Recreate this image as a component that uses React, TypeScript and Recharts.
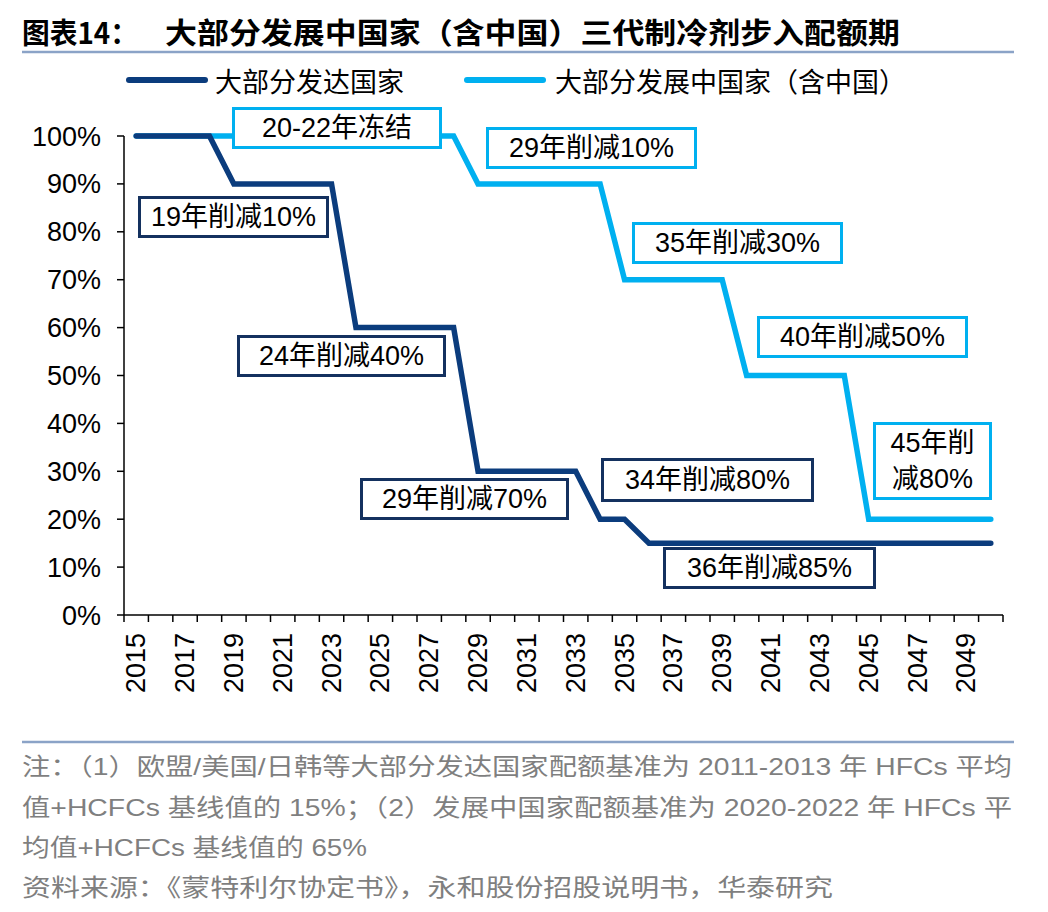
import { Line, LineChart, XAxis, YAxis } from "recharts";

// categories and series (% of baseline quota)
const years = [
  2015, 2016, 2017, 2018, 2019, 2020, 2021, 2022, 2023, 2024, 2025, 2026,
  2027, 2028, 2029, 2030, 2031, 2032, 2033, 2034, 2035, 2036, 2037, 2038,
  2039, 2040, 2041, 2042, 2043, 2044, 2045, 2046, 2047, 2048, 2049, 2050,
];
const developed = [
  100, 100, 100, 100, 90, 90, 90, 90, 90, 60, 60, 60, 60, 60, 30, 30, 30, 30,
  30, 20, 20, 15, 15, 15, 15, 15, 15, 15, 15, 15, 15, 15, 15, 15, 15, 15,
];
const developing = [
  100, 100, 100, 100, 100, 100, 100, 100, 100, 100, 100, 100, 100, 100, 90, 90,
  90, 90, 90, 90, 70, 70, 70, 70, 70, 50, 50, 50, 50, 50, 20, 20, 20, 20, 20, 20,
];
const yTicks = [0, 10, 20, 30, 40, 50, 60, 70, 80, 90, 100];
const labelYears = years.filter((y) => (y - 2015) % 2 === 0 && y < 2050);

const seriesNames = { developed: "大部分发达国家", developing: "大部分发展中国家（含中国）" };
const title = ["图表14：", "大部分发展中国家（含中国）三代制冷剂步入配额期"];
const notes = [
  "注：（1）欧盟/美国/日韩等大部分发达国家配额基准为 2011-2013 年 HFCs 平均",
  "值+HCFCs 基线值的 15%；（2）发展中国家配额基准为 2020-2022 年 HFCs 平",
  "均值+HCFCs 基线值的 65%",
  "资料来源：《蒙特利尔协定书》，永和股份招股说明书，华泰研究",
];

const data = years.map((year, i) => ({
  year,
  developed: developed[i],
  developing: developing[i],
}));
const bounds = [...years.map((y) => y - 0.5), years[years.length - 1] + 0.5];

const DARK = "#0b3c7d";
const DARK_BOX = "#14315f";
const LIGHT = "#00b0f0";
const FONT = '"Liberation Sans", "Noto Sans CJK SC", sans-serif';
const CJK = '"Noto Sans CJK SC", sans-serif';

// annotation boxes (page pixels)
const boxes = [
  { text: "20-22年冻结", c: LIGHT, x: 232, y: 107, w: 210, h: 42 },
  { text: "19年削减10%", c: DARK_BOX, x: 138, y: 196, w: 191, h: 42 },
  { text: "29年削减10%", c: LIGHT, x: 486, y: 127, w: 211, h: 42 },
  { text: "35年削减30%", c: LIGHT, x: 632, y: 222, w: 211, h: 42 },
  { text: "24年削减40%", c: DARK_BOX, x: 237, y: 335, w: 209, h: 42 },
  { text: "40年削减50%", c: LIGHT, x: 757, y: 316, w: 211, h: 42 },
  { text: "45年削\n减80%", c: LIGHT, x: 873, y: 422, w: 119, h: 78 },
  { text: "34年削减80%", c: DARK_BOX, x: 601, y: 458, w: 213, h: 44 },
  { text: "29年削减70%", c: DARK_BOX, x: 360, y: 478, w: 209, h: 42 },
  { text: "36年削减85%", c: DARK_BOX, x: 663, y: 547, w: 213, h: 42 },
];

const HALF_BAND = (1003 - 124) / years.length / 2;

function YearTick(props: any) {
  const { x, y, payload } = props;
  const year = payload.value + 0.5;
  if (!labelYears.includes(year)) return null;
  const cx = x + HALF_BAND;
  const ty = y + 9;
  return (
    <text
      x={cx}
      y={ty}
      transform={`rotate(-90, ${cx}, ${ty})`}
      textAnchor="end"
      dominantBaseline="central"
      fontSize={27}
      fontFamily={FONT}
      fill="#000"
    >
      {year}
    </text>
  );
}

export default function App() {
  return (
    <div
      style={{
        position: "absolute",
        left: 0,
        top: 0,
        width: 1048,
        height: 912,
        background: "#fff",
        fontFamily: FONT,
      }}
    >
      <div style={{ position: "absolute", left: 0, top: 0 }}>
        <LineChart width={1048} height={720} data={data} margin={{ top: 136, right: 45, bottom: 5, left: 0 }}>
          <XAxis
            dataKey="year"
            type="number"
            domain={[bounds[0], bounds[bounds.length - 1]]}
            ticks={bounds}
            interval={0}
            tickSize={7}
            height={100}
            axisLine={{ stroke: "#000", strokeWidth: 1.5 }}
            tickLine={{ stroke: "#000", strokeWidth: 1.5 }}
            tick={YearTick}
          />
          <YAxis
            domain={[0, 100]}
            ticks={yTicks}
            interval={0}
            tickFormatter={(v) => `${v}%`}
            width={124}
            tickSize={7}
            tickMargin={16}
            axisLine={{ stroke: "#000", strokeWidth: 1.5 }}
            tickLine={{ stroke: "#000", strokeWidth: 1.5 }}
            tick={{ fontSize: 27, fill: "#000", fontFamily: FONT }}
          />
          <Line
            type="linear"
            dataKey="developing"
            name={seriesNames.developing}
            stroke={LIGHT}
            strokeWidth={5.5}
            strokeLinecap="round"
            dot={false}
            isAnimationActive={false}
          />
          <Line
            type="linear"
            dataKey="developed"
            name={seriesNames.developed}
            stroke={DARK}
            strokeWidth={5.5}
            strokeLinecap="round"
            dot={false}
            isAnimationActive={false}
          />
        </LineChart>
      </div>

      {boxes.map((b) => (
        <div
          key={b.text}
          style={{
            position: "absolute",
            left: b.x,
            top: b.y,
            width: b.w,
            height: b.h,
            boxSizing: "border-box",
            border: `3px solid ${b.c}`,
            background: "#fff",
            display: "flex",
            alignItems: "center",
            justifyContent: "center",
            textAlign: "center",
            whiteSpace: "pre",
            fontSize: 27,
            lineHeight: "36px",
            color: "#000",
          }}
        >
          {b.text}
        </div>
      ))}

      <svg
        width={1048}
        height={912}
        style={{ position: "absolute", left: 0, top: 0, pointerEvents: "none" }}
      >
        <text x={22} y={44} fontSize={29} fontWeight={700} fontFamily={CJK} textLength={116} lengthAdjust="spacingAndGlyphs">
          {title[0]}
        </text>
        <text x={165} y={44} fontSize={29} fontWeight={700} fontFamily={CJK} textLength={735} lengthAdjust="spacingAndGlyphs">
          {title[1]}
        </text>
        <line x1={22} x2={1014} y1={52} y2={52} stroke="#8ba3c7" strokeWidth={2.5} />

        <line x1={129} x2={205} y1={80} y2={80} stroke={DARK} strokeWidth={6} strokeLinecap="round" />
        <text x={215} y={80} dominantBaseline="central" fontSize={27} fontFamily={CJK}>
          {seriesNames.developed}
        </text>
        <line x1={467} x2={543} y1={80} y2={80} stroke={LIGHT} strokeWidth={6} strokeLinecap="round" />
        <text x={555} y={80} dominantBaseline="central" fontSize={27} fontFamily={CJK}>
          {seriesNames.developing}
        </text>

        <line x1={22} x2={1014} y1={742} y2={742} stroke="#8ba3c7" strokeWidth={2.5} />
        {notes.map((t, i) => (
          <text
            key={i}
            x={22}
            y={[775, 816, 856, 896][i]}
            fontSize={24}
            fill="#7f7f7f"
            fontFamily={FONT}
            textLength={[990, 990, 345, 811][i]}
            lengthAdjust="spacingAndGlyphs"
          >
            {t}
          </text>
        ))}
      </svg>
    </div>
  );
}
